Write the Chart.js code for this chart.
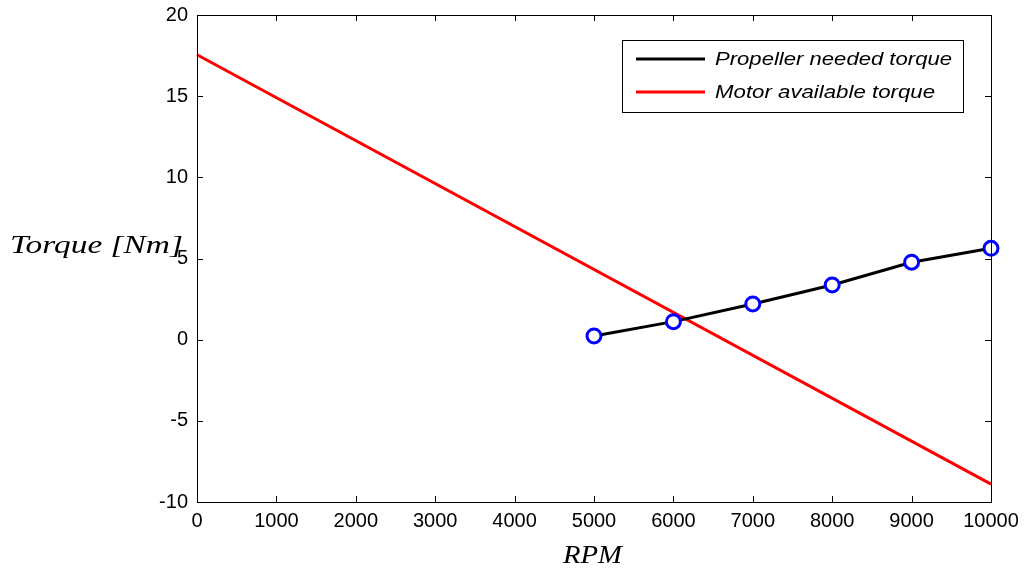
<!DOCTYPE html>
<html>
<head>
<meta charset="utf-8">
<script src="https://cdn.jsdelivr.net/npm/chart.js@4/dist/chart.umd.min.js"></script>
<style>
  html, body { margin: 0; padding: 0; background: #fff; }
  #wrap { width: 1027px; height: 571px; }
</style>
</head>
<body>
<div id="wrap"><canvas id="torqueChart" width="1027" height="571"></canvas></div>
<script>
// data
const propellerRpm = [5000, 6000, 7000, 8000, 9000, 10000];
const propellerTorque = [0.23, 1.11, 2.2, 3.37, 4.77, 5.63];
const motorRpm = [0, 10000];
const motorTorque = [17.55, -8.9];
const xTicks = [0, 1000, 2000, 3000, 4000, 5000, 6000, 7000, 8000, 9000, 10000];
const yTicks = [-10, -5, 0, 5, 10, 15, 20];
const seriesLabels = ["Propeller needed torque", "Motor available torque"];
const seriesColors = ["#000000", "#ff0000"];

// draw text squeezed/stretched to a target width (fonts differ from the original)
function fitText(ctx, txt, x, y, width) {
	const w = ctx.measureText(txt).width;
	ctx.save();
	ctx.translate(x, y);
	ctx.scale(width / w, 1);
	ctx.fillText(txt, 0, 0);
	ctx.restore();
}

// MATLAB-ish frame, inward ticks, axis titles and legend box
const matlabLook = {
	id: "matlabLook",
	afterDraw(chart) {
		const ctx = chart.ctx;
		const a = chart.chartArea;
		const xs = chart.scales.x;
		const ys = chart.scales.y;
		ctx.save();
		ctx.strokeStyle = "#000";
		ctx.lineWidth = 1;
		ctx.strokeRect(a.left + 0.5, a.top + 0.5, a.right - a.left, a.bottom - a.top);
		const tl = 6;
		ctx.beginPath();
		xTicks.forEach(v => {
			const px = Math.round(xs.getPixelForValue(v)) + 0.5;
			ctx.moveTo(px, a.bottom); ctx.lineTo(px, a.bottom - tl);
			ctx.moveTo(px, a.top); ctx.lineTo(px, a.top + tl);
		});
		yTicks.forEach(v => {
			const py = Math.round(ys.getPixelForValue(v)) + 0.5;
			ctx.moveTo(a.left, py); ctx.lineTo(a.left + tl, py);
			ctx.moveTo(a.right, py); ctx.lineTo(a.right - tl, py);
		});
		ctx.stroke();

		// axis titles
		ctx.fillStyle = "#000";
		ctx.font = "italic 25px 'Liberation Serif', serif";
		ctx.textBaseline = "middle";
		ctx.textAlign = "left";
		fitText(ctx, "Torque [Nm]", 10, 246, 173);
		fitText(ctx, "RPM", 563, 556, 59);

		// legend
		const box = { l: 622, t: 40, r: 963, b: 112 };
		ctx.fillStyle = "#fff";
		ctx.fillRect(box.l, box.t, box.r - box.l, box.b - box.t);
		ctx.strokeStyle = "#000";
		ctx.strokeRect(box.l + 0.5, box.t + 0.5, box.r - box.l, box.b - box.t);
		ctx.font = "italic 19px 'Liberation Sans', Arial, sans-serif";
		const rowsY = [60, 93];
		const rowsW = [237, 220];
		seriesLabels.forEach((lab, i) => {
			ctx.strokeStyle = seriesColors[i];
			ctx.lineWidth = 3;
			ctx.beginPath();
			ctx.moveTo(636, rowsY[i] - 1);
			ctx.lineTo(705, rowsY[i] - 1);
			ctx.stroke();
			ctx.fillStyle = "#000";
			fitText(ctx, lab, 715, rowsY[i], rowsW[i]);
		});
		ctx.restore();
	}
};

new Chart(document.getElementById("torqueChart").getContext("2d"), {
	type: "scatter",
	data: {
		datasets: [
			{
				label: seriesLabels[1],
				data: motorRpm.map((x, i) => ({ x, y: motorTorque[i] })),
				showLine: true,
				borderColor: seriesColors[1],
				borderWidth: 3,
				pointRadius: 0,
				order: 2
			},
			{
				label: seriesLabels[0],
				data: propellerRpm.map((x, i) => ({ x, y: propellerTorque[i] })),
				showLine: true,
				borderColor: seriesColors[0],
				borderWidth: 3,
				pointRadius: 7,
				pointBorderWidth: 3,
				pointBorderColor: "#0000ff",
				pointBackgroundColor: "#ffffff",
				order: 1
			}
		]
	},
	options: {
		responsive: false,
		animation: false,
		clip: false,
		layout: { padding: { left: 0, top: 15, right: 36, bottom: 0 } },
		plugins: { legend: { display: false }, tooltip: { enabled: false } },
		scales: {
			x: {
				type: "linear",
				min: 0,
				max: 10000,
				afterBuildTicks: s => { s.ticks = xTicks.map(v => ({ value: v })); },
				afterFit: s => { s.height = 69; s.paddingLeft = 0; s.paddingRight = 0; },
				grid: { display: false, drawTicks: false },
				border: { display: false },
				ticks: { color: "#000", font: { family: "'Liberation Sans', Arial, sans-serif", size: 20 }, padding: 7, maxRotation: 0, callback: v => String(v) }
			},
			y: {
				type: "linear",
				min: -10,
				max: 20,
				afterBuildTicks: s => { s.ticks = yTicks.map(v => ({ value: v })); },
				afterFit: s => { s.width = 197; s.paddingTop = 0; s.paddingBottom = 0; },
				grid: { display: false, drawTicks: false },
				border: { display: false },
				ticks: { color: "#000", font: { family: "'Liberation Sans', Arial, sans-serif", size: 20 }, padding: 9, callback: v => String(v) }
			}
		}
	},
	plugins: [matlabLook]
});
</script>
</body>
</html>
